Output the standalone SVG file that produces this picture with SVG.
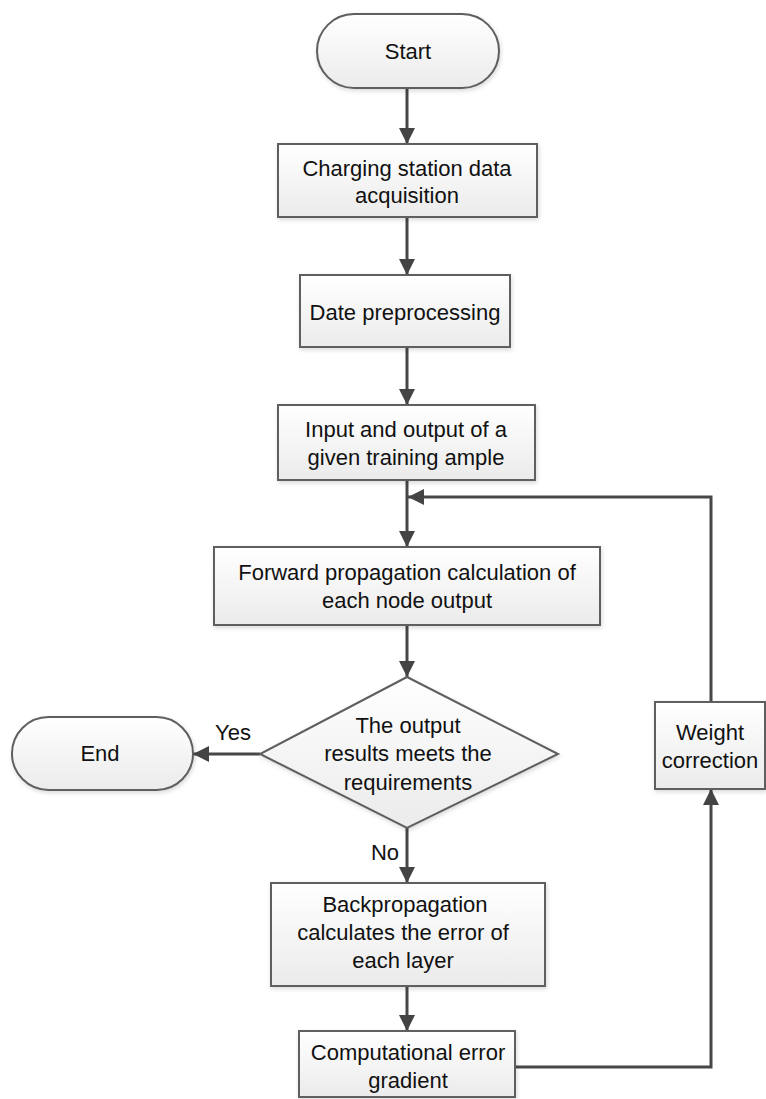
<svg xmlns="http://www.w3.org/2000/svg" width="766" height="1099" viewBox="0 0 766 1099">
  <style>
    .node { fill: url(#g); stroke: #5e5e5e; stroke-width: 2; filter: url(#sh); }
    .t { font-family: "Liberation Sans", Arial, sans-serif; font-size: 22px; fill: #111; text-anchor: middle; dominant-baseline: central; }
    .c { fill: none; stroke: #474747; stroke-width: 3; }
  </style>
  <defs>
    <linearGradient id="g" x1="0" y1="0" x2="0" y2="1">
      <stop offset="0" stop-color="#ffffff"/>
      <stop offset="1" stop-color="#ebebeb"/>
    </linearGradient>
    <filter id="sh" x="-10%" y="-10%" width="120%" height="130%">
      <feDropShadow dx="1" dy="2" stdDeviation="2" flood-color="#000" flood-opacity="0.15"/>
    </filter>
    <marker id="ah" markerUnits="userSpaceOnUse" markerWidth="16" markerHeight="16" viewBox="0 0 16 16" refX="16" refY="8" orient="auto">
      <path d="M0,0 L16,8 L0,16 z" fill="#444"/>
    </marker>
  </defs>
  <rect width="766" height="1099" fill="#fff"/>

  <g id="connectors">
    <line class="c" x1="407" y1="88" x2="407" y2="144" marker-end="url(#ah)"/>
    <line class="c" x1="407" y1="217" x2="407" y2="275" marker-end="url(#ah)"/>
    <line class="c" x1="407" y1="347" x2="407" y2="405" marker-end="url(#ah)"/>
    <line class="c" x1="407" y1="480" x2="407" y2="547" marker-end="url(#ah)"/>
    <line class="c" x1="407" y1="625" x2="407" y2="677" marker-end="url(#ah)"/>
    <line class="c" x1="260" y1="754" x2="193" y2="754" marker-end="url(#ah)"/>
    <line class="c" x1="407" y1="828" x2="407" y2="883" marker-end="url(#ah)"/>
    <line class="c" x1="407" y1="986" x2="407" y2="1031" marker-end="url(#ah)"/>
    <polyline class="c" points="515,1067 711,1067 711,789" marker-end="url(#ah)"/>
    <polyline class="c" points="711,702 711,497 408,497" marker-end="url(#ah)"/>
    <text class="t" x="233" y="732">Yes</text>
    <text class="t" x="385" y="852">No</text>
  </g>

  <g id="start">
    <rect class="node" x="317" y="14" width="182" height="74" rx="37" ry="37"/>
    <text class="t" x="408" y="51">Start</text>
  </g>
  <g id="acquisition">
    <rect class="node" x="278" y="144" width="259" height="73"/>
    <text class="t" x="407" y="168">Charging station data</text>
    <text class="t" x="407" y="195">acquisition</text>
  </g>
  <g id="preprocessing">
    <rect class="node" x="300" y="275" width="210" height="72"/>
    <text class="t" x="405" y="312">Date preprocessing</text>
  </g>
  <g id="sample">
    <rect class="node" x="278" y="405" width="257" height="75"/>
    <text class="t" x="406" y="429">Input and output of a</text>
    <text class="t" x="406" y="457">given training ample</text>
  </g>
  <g id="forward">
    <rect class="node" x="214" y="547" width="386" height="78"/>
    <text class="t" x="407" y="572">Forward propagation calculation of</text>
    <text class="t" x="407" y="600">each node output</text>
  </g>
  <g id="decision">
    <polygon class="node" points="407,677 558,754 407,828 260,754"/>
    <text class="t" x="408" y="725">The output</text>
    <text class="t" x="408" y="753">results meets the</text>
    <text class="t" x="408" y="782">requirements</text>
  </g>
  <g id="end">
    <rect class="node" x="12" y="717" width="181" height="73" rx="36.5" ry="36.5"/>
    <text class="t" x="100" y="753">End</text>
  </g>
  <g id="backprop">
    <rect class="node" x="271" y="883" width="274" height="103"/>
    <text class="t" x="405" y="904">Backpropagation</text>
    <text class="t" x="403" y="932">calculates the error of</text>
    <text class="t" x="403" y="960">each layer</text>
  </g>
  <g id="gradient">
    <rect class="node" x="299" y="1031" width="216" height="66"/>
    <text class="t" x="408" y="1052">Computational error</text>
    <text class="t" x="408" y="1080">gradient</text>
  </g>
  <g id="weight">
    <rect class="node" x="655" y="702" width="110" height="87"/>
    <text class="t" x="710" y="732">Weight</text>
    <text class="t" x="710" y="760">correction</text>
  </g>
</svg>
